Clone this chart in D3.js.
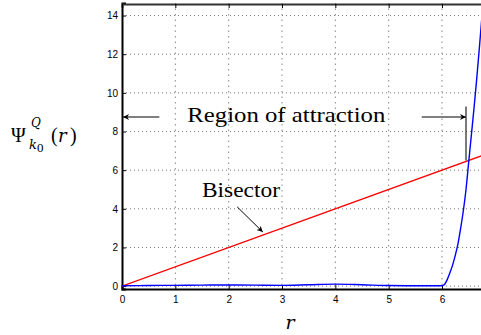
<!DOCTYPE html>
<html>
<head>
<meta charset="utf-8">
<script src="https://cdn.jsdelivr.net/npm/d3@7"></script>
<style>
  body { margin: 0; background: #fff; }
  svg { display: block; }
</style>
</head>
<body>
<script>
// chart size
const width = 481,
height = 335;
const serif = "'Liberation Serif', 'DejaVu Serif', 'Times New Roman', serif";
const serifItalic = "'DejaVu Serif', serif";
const sans = "'Liberation Sans', Arial, sans-serif";

// ticks
const xTicks = [0, 1, 2, 3, 4, 5, 6];
const yTicks = [0, 2, 4, 6, 8, 10, 12, 14];

// blue curve Psi(r)
const rValues = [0, 0.5, 1, 1.5, 2, 2.5, 3, 3.5, 4, 4.5, 5, 5.5, 6, 6.05, 6.1, 6.15, 6.2, 6.25, 6.3, 6.35, 6.4, 6.45, 6.5, 6.55, 6.6, 6.65, 6.7, 6.75];
const psiValues = [0.02, 0.03, 0.04, 0.05, 0.06, 0.05, 0.04, 0.07, 0.1, 0.07, 0.03, 0.02, 0.02, 0.1, 0.35, 0.7, 1.1, 1.6, 2.2, 3.0, 3.9, 5.0, 6.4, 7.8, 9.2, 10.7, 12.3, 14.0];

// bisector y = r
const bisectorR = [0, 6.75];

// scales
let xScale = d3.scaleLinear()
	.domain([0, 6.75])
	.range([122, 482]);

let yScale = d3.scaleLinear()
	.domain([-0.15, 14.65])
	.range([289, 3]);

let svg = d3.select("body")
	.append("svg")
	.attr("width", width)
	.attr("height", height);

svg.append("defs").append("clipPath")
	.attr("id", "plot")
	.append("rect")
	.attr("x", 122).attr("y", 3)
	.attr("width", 360).attr("height", 286);

// dotted grid
svg.append("g")
	.selectAll("line")
	.data(xTicks.slice(1))
	.enter()
	.append("line")
	.attr("x1", d => xScale(d)).attr("x2", d => xScale(d))
	.attr("y1", 3).attr("y2", 289)
	.attr("stroke", "#888")
	.attr("stroke-width", 1)
	.attr("stroke-dasharray", "1.5,4");

svg.append("g")
	.selectAll("line")
	.data(yTicks)
	.enter()
	.append("line")
	.attr("x1", 122).attr("x2", 482)
	.attr("y1", d => yScale(d)).attr("y2", d => yScale(d))
	.attr("stroke", "#777")
	.attr("stroke-width", 1)
	.attr("stroke-dasharray", "1,3");

// axes
let xAxis = svg.append("g")
	.attr("transform", "translate(0,289)")
	.call(d3.axisBottom(xScale).tickValues(xTicks).tickSize(-4).tickPadding(7).tickFormat(d3.format("d")));

let yAxis = svg.append("g")
	.attr("transform", "translate(122,0)")
	.call(d3.axisLeft(yScale).tickValues(yTicks).tickSize(-4).tickPadding(4).tickFormat(d3.format("d")));

let topAxis = svg.append("g")
	.attr("transform", "translate(0,4)")
	.call(d3.axisTop(xScale).tickValues(xTicks).tickSize(-4).tickFormat(""));

[xAxis, yAxis, topAxis].forEach(a => {
	a.attr("font-family", sans).attr("font-size", 10);
	a.select(".domain").attr("stroke", "#000").attr("stroke-width", 2);
	a.selectAll(".tick line").attr("stroke", "#000");
});
topAxis.select(".domain").attr("stroke", "#333");

// lines
let plot = svg.append("g").attr("clip-path", "url(#plot)");

plot.append("path")
	.datum(bisectorR)
	.attr("fill", "none")
	.attr("stroke", "#ff0000")
	.attr("stroke-width", 1.3)
	.attr("d", d3.line().x(d => xScale(d)).y(d => yScale(d)));

plot.append("path")
	.datum(rValues.map((r, i) => [r, psiValues[i]]))
	.attr("fill", "none")
	.attr("stroke", "#0000ff")
	.attr("stroke-width", 1.4)
	.attr("d", d3.line().curve(d3.curveMonotoneX).x(d => xScale(d[0])).y(d => yScale(d[1])));

// annotations
svg.append("defs").append("marker")
	.attr("id", "head")
	.attr("viewBox", "0 0 10 10")
	.attr("refX", 10).attr("refY", 5)
	.attr("markerWidth", 8).attr("markerHeight", 6)
	.attr("markerUnits", "userSpaceOnUse")
	.attr("orient", "auto")
	.append("path")
	.attr("d", "M0,0L10,5L0,10L3,5Z")
	.attr("fill", "#000");

function arrow(r1, y1, r2, y2) {
	svg.append("line")
		.attr("x1", xScale(r1)).attr("y1", yScale(y1))
		.attr("x2", xScale(r2)).attr("y2", yScale(y2))
		.attr("stroke", "#000")
		.attr("stroke-width", 1)
		.attr("marker-end", "url(#head)");
}

arrow(0.7, 8.75, 0.02, 8.75);
arrow(5.62, 8.75, 6.45, 8.75);
arrow(2.16, 4.1, 2.64, 2.8);

// vertical limit marker
svg.append("line")
	.attr("x1", xScale(6.45)).attr("x2", xScale(6.45))
	.attr("y1", yScale(9.3)).attr("y2", yScale(6.5))
	.attr("stroke", "#222")
	.attr("stroke-width", 1.2);

svg.append("text")
	.attr("font-family", serif)
	.attr("x", xScale(3.08))
	.attr("y", yScale(8.5))
	.attr("text-anchor", "middle")
	.attr("font-size", 21)
	.attr("textLength", 198)
	.attr("lengthAdjust", "spacingAndGlyphs")
	.text("Region of attraction");

svg.append("text")
	.attr("font-family", serif)
	.attr("x", xScale(1.5))
	.attr("y", yScale(4.6))
	.attr("font-size", 21)
	.attr("textLength", 78)
	.attr("lengthAdjust", "spacingAndGlyphs")
	.text("Bisector");

// axis labels
svg.append("text")
	.attr("font-family", serifItalic)
	.attr("x", 290)
	.attr("y", 329)
	.attr("text-anchor", "middle")
	.attr("font-size", 19)
	.attr("font-style", "italic")
	.text("r");

let ylab = svg.append("g").attr("font-family", serif);
ylab.append("text").attr("x", 11).attr("y", 142).attr("font-size", 20).text("Ψ");
ylab.append("text").attr("x", 31).attr("y", 127).attr("font-family", serifItalic).attr("font-size", 12).attr("font-style", "italic").text("Q");
ylab.append("text").attr("x", 29).attr("y", 149).attr("font-family", serifItalic).attr("font-size", 13).attr("font-style", "italic").text("k");
ylab.append("text").attr("x", 37).attr("y", 152).attr("font-size", 13).text("0");
ylab.append("text").attr("x", 51).attr("y", 142).attr("font-size", 20).text("(");
ylab.append("text").attr("x", 58).attr("y", 142).attr("font-family", serifItalic).attr("font-size", 18).attr("font-style", "italic").text("r");
ylab.append("text").attr("x", 70).attr("y", 142).attr("font-size", 20).text(")");
</script>
</body>
</html>
